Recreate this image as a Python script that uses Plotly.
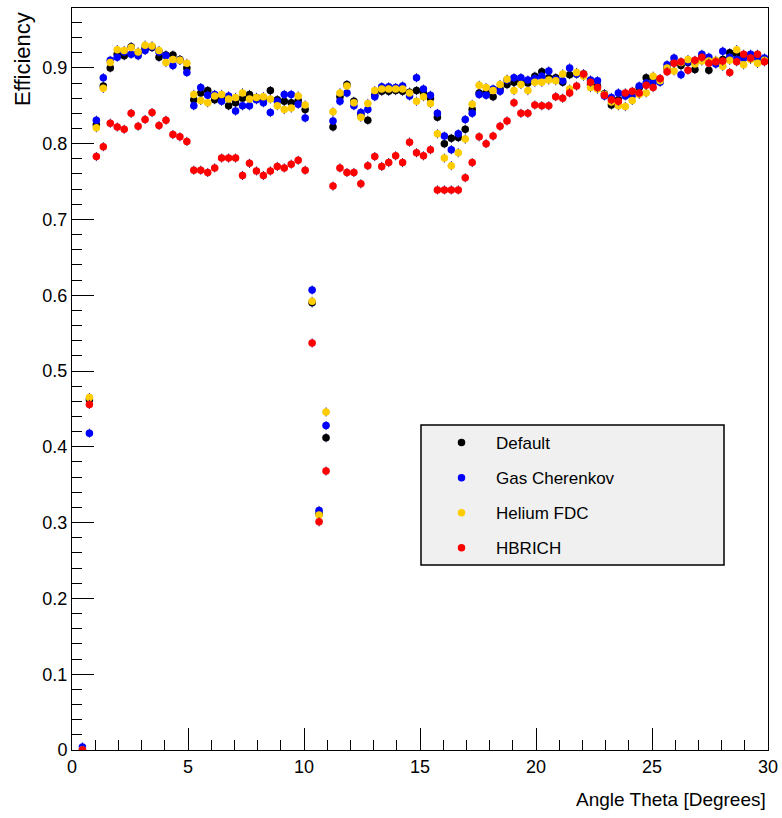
import numpy as np
import plotly.graph_objects as go

# Bin layout: 0.3 degree bins, first filled bin centred at 0.45 deg
bin_width = 0.3
theta = np.round(0.45 + bin_width * np.arange(99), 2)

eff_default = [
    0.000, 0.462, 0.825, 0.876, 0.900, 0.918, 0.916, 0.928, 0.920, 0.926,
    0.927, 0.914, 0.917, 0.917, 0.911, 0.900, 0.858, 0.867, 0.870, 0.858,
    0.859, 0.850, 0.854, 0.860, 0.865, 0.861, 0.860, 0.870, 0.858, 0.856,
    0.854, 0.857, 0.845, 0.590, 0.312, 0.412, 0.822, 0.862, 0.878, 0.856,
    0.838, 0.831, 0.864, 0.869, 0.869, 0.870, 0.869, 0.868, 0.870, 0.867,
    0.860, 0.835, 0.800, 0.807, 0.808, 0.819, 0.845, 0.867, 0.867, 0.862,
    0.872, 0.878, 0.881, 0.883, 0.880, 0.889, 0.895, 0.887, 0.887, 0.881,
    0.891, 0.892, 0.892, 0.878, 0.876, 0.866, 0.851, 0.858, 0.864, 0.867,
    0.874, 0.887, 0.885, 0.884, 0.900, 0.907, 0.903, 0.907, 0.898, 0.914,
    0.897, 0.907, 0.911, 0.920, 0.918, 0.913, 0.913, 0.913, 0.910,
]

eff_gas_cherenkov = [
    0.004, 0.418, 0.831, 0.887, 0.910, 0.914, 0.921, 0.918, 0.916, 0.923,
    0.928, 0.921, 0.916, 0.903, 0.910, 0.894, 0.850, 0.874, 0.864, 0.865,
    0.856, 0.863, 0.843, 0.850, 0.850, 0.858, 0.854, 0.841, 0.856, 0.865,
    0.865, 0.852, 0.834, 0.607, 0.316, 0.428, 0.830, 0.856, 0.867, 0.850,
    0.841, 0.845, 0.862, 0.875, 0.875, 0.874, 0.876, 0.863, 0.887, 0.872,
    0.864, 0.840, 0.810, 0.792, 0.813, 0.832, 0.840, 0.865, 0.864, 0.872,
    0.869, 0.884, 0.887, 0.887, 0.884, 0.886, 0.889, 0.896, 0.885, 0.883,
    0.900, 0.892, 0.891, 0.884, 0.883, 0.863, 0.861, 0.867, 0.863, 0.864,
    0.876, 0.880, 0.881, 0.881, 0.904, 0.913, 0.891, 0.908, 0.909, 0.918,
    0.914, 0.905, 0.922, 0.914, 0.911, 0.913, 0.918, 0.913, 0.913,
]

eff_helium_fdc = [
    0.000, 0.465, 0.821, 0.873, 0.907, 0.924, 0.923, 0.927, 0.921, 0.930,
    0.929, 0.923, 0.907, 0.911, 0.910, 0.906, 0.865, 0.857, 0.854, 0.863,
    0.865, 0.859, 0.861, 0.867, 0.859, 0.861, 0.862, 0.859, 0.850, 0.845,
    0.847, 0.863, 0.851, 0.592, 0.310, 0.446, 0.842, 0.867, 0.876, 0.854,
    0.835, 0.853, 0.870, 0.872, 0.872, 0.872, 0.872, 0.867, 0.856, 0.862,
    0.853, 0.813, 0.781, 0.771, 0.788, 0.806, 0.852, 0.877, 0.874, 0.870,
    0.878, 0.885, 0.870, 0.878, 0.870, 0.881, 0.881, 0.884, 0.883, 0.892,
    0.872, 0.894, 0.889, 0.874, 0.872, 0.865, 0.855, 0.850, 0.849, 0.857,
    0.865, 0.867, 0.889, 0.883, 0.900, 0.896, 0.907, 0.911, 0.905, 0.909,
    0.909, 0.910, 0.902, 0.910, 0.924, 0.904, 0.911, 0.906, 0.910,
]

eff_hbrich = [
    0.000, 0.456, 0.783, 0.796, 0.827, 0.822, 0.819, 0.840, 0.823, 0.832,
    0.841, 0.824, 0.831, 0.812, 0.809, 0.803, 0.765, 0.765, 0.762, 0.768,
    0.781, 0.781, 0.781, 0.758, 0.774, 0.764, 0.758, 0.764, 0.770, 0.768,
    0.773, 0.778, 0.765, 0.537, 0.301, 0.368, 0.744, 0.768, 0.762, 0.762,
    0.747, 0.771, 0.783, 0.770, 0.775, 0.784, 0.775, 0.802, 0.788, 0.784,
    0.792, 0.739, 0.739, 0.739, 0.739, 0.755, 0.775, 0.809, 0.800, 0.810,
    0.823, 0.830, 0.854, 0.840, 0.840, 0.851, 0.850, 0.850, 0.862, 0.860,
    0.867, 0.876, 0.892, 0.881, 0.874, 0.864, 0.858, 0.856, 0.867, 0.869,
    0.867, 0.877, 0.874, 0.886, 0.895, 0.906, 0.908, 0.897, 0.910, 0.914,
    0.906, 0.908, 0.909, 0.894, 0.908, 0.918, 0.913, 0.918, 0.908,
]

series_names = ["Default", "Gas Cherenkov", "Helium FDC", "HBRICH"]
series_values = [eff_default, eff_gas_cherenkov, eff_helium_fdc, eff_hbrich]
series_colors = ["#000000", "#0000ff", "#ffcc00", "#ff0000"]

x_ticks = [0, 5, 10, 15, 20, 25, 30]
y_ticks = [0, 0.1, 0.2, 0.3, 0.4, 0.5, 0.6, 0.7, 0.8, 0.9]
y_tick_text = ["0", "0.1", "0.2", "0.3", "0.4", "0.5", "0.6", "0.7", "0.8", "0.9"]

FONT = "Liberation Sans Narrow, Liberation Sans, Arial, sans-serif"

fig = go.Figure()
for name, vals, col in zip(series_names, series_values, series_colors):
    fig.add_trace(go.Scatter(
        x=theta, y=vals, name=name, mode="markers",
        legendgroup=name,
        marker=dict(symbol="circle", size=7.5, color=col, line=dict(width=0)),
        error_x=dict(type="constant", value=bin_width / 2, thickness=1,
                     width=0, color="#1c1c8c"),
        error_y=dict(type="constant", value=0.006, thickness=1,
                     width=0, color="#1c1c8c"),
    ))

# Plot frame geometry in pixels
W, H = 782, 818
L, R, T, B = 72, 14, 8, 68
pw, ph = W - L - R, H - T - B

def px_x(p):
    return (p - L) / pw

def px_y(p):
    return (H - B - p) / ph

axis_common = dict(
    showline=True, linecolor="black", linewidth=1, mirror=True,
    ticks="inside", tickcolor="black", tickwidth=1, ticklen=22,
    showgrid=False, zeroline=False, automargin=False,
    tickfont=dict(family=FONT, size=18, color="black"),
)

fig.update_layout(
    width=W, height=H,
    margin=dict(l=L, r=R, t=T, b=B, autoexpand=False),
    paper_bgcolor="white", plot_bgcolor="white",
    font=dict(family=FONT, color="black"),
    xaxis=dict(range=[0, 30], tickvals=x_ticks,
               minor=dict(dtick=1, ticklen=10, ticks="inside",
                          tickcolor="black", tickwidth=1, showgrid=False),
               **axis_common),
    yaxis=dict(range=[0, 0.979], tickvals=y_ticks, ticktext=y_tick_text,
               minor=dict(dtick=0.02, ticklen=10, ticks="inside",
                          tickcolor="black", tickwidth=1, showgrid=False),
               **axis_common),
    showlegend=True,
    legend=dict(
        x=px_x(427), y=px_y(425), xanchor="left", yanchor="top",
        bgcolor="rgba(0,0,0,0)", borderwidth=0,
        font=dict(family=FONT, size=17, color="black"),
        traceorder="grouped", tracegroupgap=10,
        itemsizing="trace", itemwidth=59,
    ),
    shapes=[dict(
        type="rect", xref="paper", yref="paper", layer="above",
        x0=px_x(421), x1=px_x(724), y0=px_y(565), y1=px_y(425),
        fillcolor="#f0f0f0", line=dict(color="black", width=1.5),
    )],
    annotations=[
        dict(text="Angle Theta [Degrees]", xref="paper", yref="paper",
             x=1.0, y=px_y(799), xanchor="right", yanchor="middle",
             showarrow=False, font=dict(family=FONT, size=19, color="black")),
        dict(text="Efficiency", xref="paper", yref="paper",
             x=px_x(22), y=px_y(10), xanchor="center", yanchor="top",
             textangle=-90, showarrow=False,
             font=dict(family=FONT, size=22, color="black")),
    ],
)

fig.write_html("out.html")
